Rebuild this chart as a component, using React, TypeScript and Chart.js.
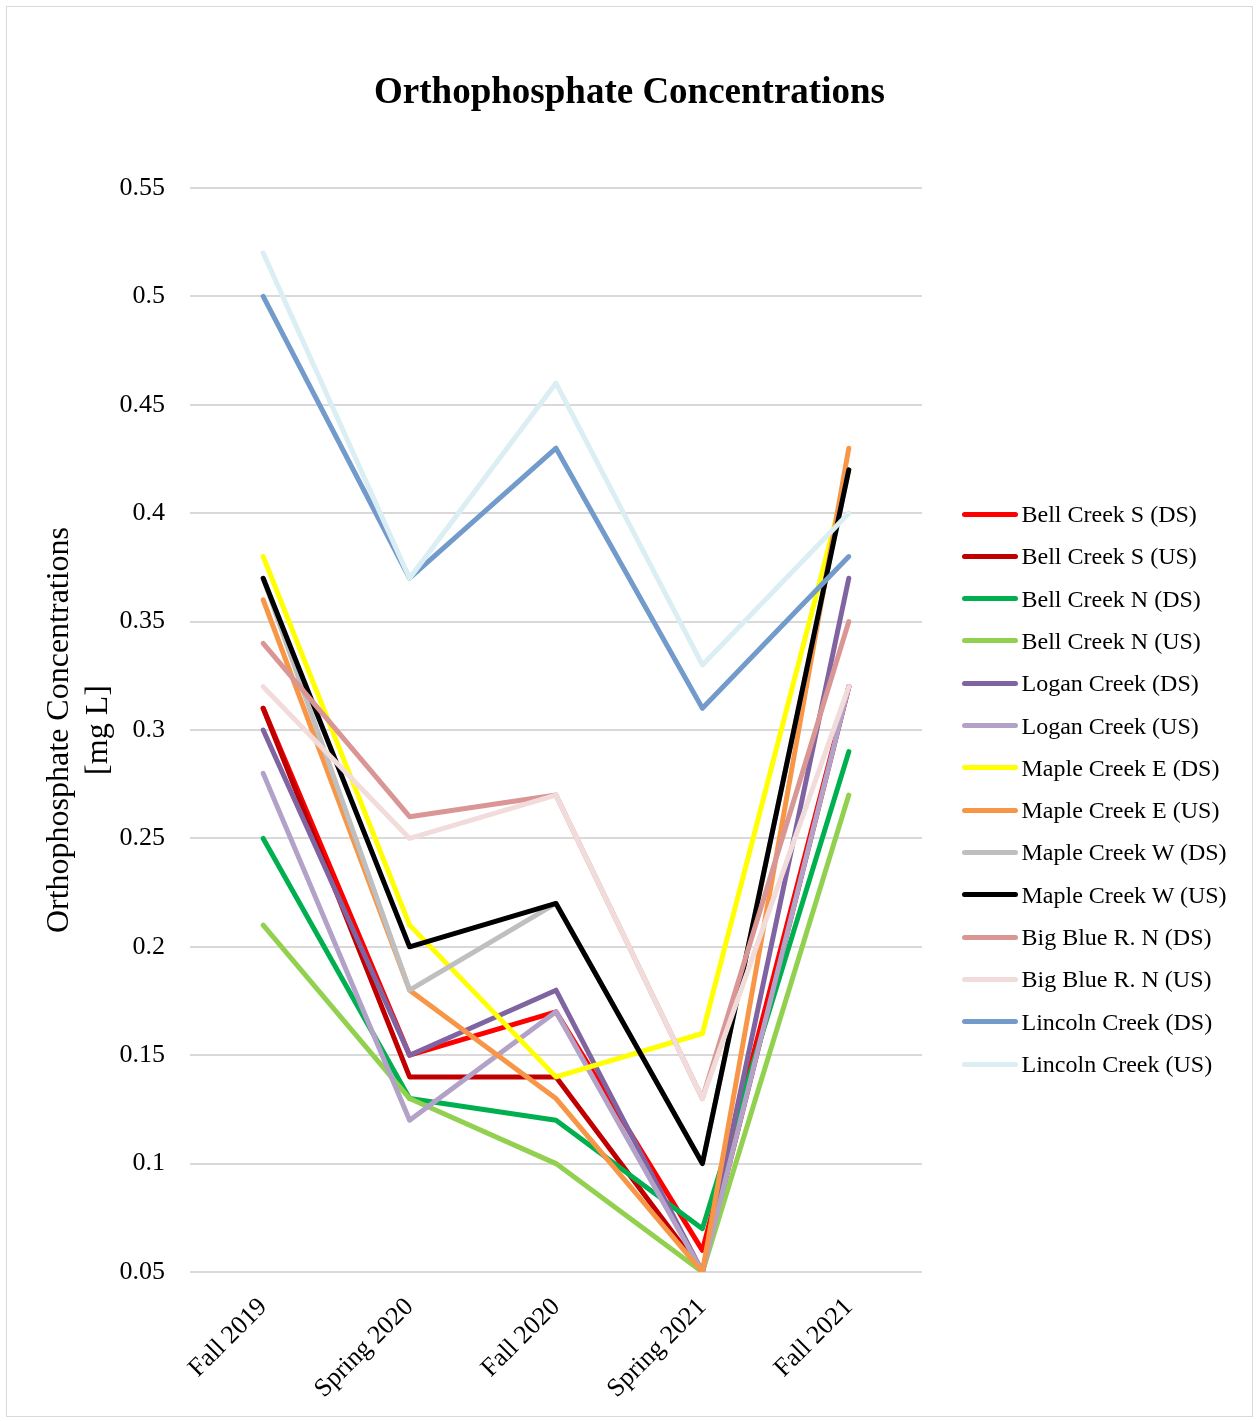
import React, { useEffect, useRef } from 'react';
import { Chart, registerables } from 'chart.js';

Chart.register(...registerables);

const categories = ['Fall 2019', 'Spring 2020', 'Fall 2020', 'Spring 2021', 'Fall 2021'];

const bellCreekSDS = [0.31, 0.15, 0.17, 0.06, 0.32];
const bellCreekSUS = [0.31, 0.14, 0.14, 0.05, 0.32];
const bellCreekNDS = [0.25, 0.13, 0.12, 0.07, 0.29];
const bellCreekNUS = [0.21, 0.13, 0.10, 0.05, 0.27];
const loganCreekDS = [0.30, 0.15, 0.18, 0.05, 0.37];
const loganCreekUS = [0.28, 0.12, 0.17, 0.05, 0.32];
const mapleCreekEDS = [0.38, 0.21, 0.14, 0.16, 0.42];
const mapleCreekEUS = [0.36, 0.18, 0.13, 0.05, 0.43];
const mapleCreekWDS = [0.37, 0.18, 0.22, 0.10, 0.42];
const mapleCreekWUS = [0.37, 0.20, 0.22, 0.10, 0.42];
const bigBlueNDS = [0.34, 0.26, 0.27, 0.13, 0.35];
const bigBlueNUS = [0.32, 0.25, 0.27, 0.13, 0.32];
const lincolnCreekDS = [0.50, 0.37, 0.43, 0.31, 0.38];
const lincolnCreekUS = [0.52, 0.37, 0.46, 0.33, 0.40];

const seriesNames = [
  'Bell Creek S (DS)', 'Bell Creek S (US)', 'Bell Creek N (DS)', 'Bell Creek N (US)',
  'Logan Creek (DS)', 'Logan Creek (US)', 'Maple Creek E (DS)', 'Maple Creek E (US)',
  'Maple Creek W (DS)', 'Maple Creek W (US)', 'Big Blue R. N (DS)', 'Big Blue R. N (US)',
  'Lincoln Creek (DS)', 'Lincoln Creek (US)',
];
const seriesValues = [
  bellCreekSDS, bellCreekSUS, bellCreekNDS, bellCreekNUS,
  loganCreekDS, loganCreekUS, mapleCreekEDS, mapleCreekEUS,
  mapleCreekWDS, mapleCreekWUS, bigBlueNDS, bigBlueNUS,
  lincolnCreekDS, lincolnCreekUS,
];
const seriesColors = [
  '#FF0000', '#C00000', '#00B050', '#92D050',
  '#8064A2', '#B3A2C7', '#FFFF00', '#F79646',
  '#BFBFBF', '#000000', '#D99694', '#F2DCDB',
  '#729ACB', '#DAEEF3',
];

const yTicks = [0.05, 0.1, 0.15, 0.2, 0.25, 0.3, 0.35, 0.4, 0.45, 0.5, 0.55];
const yTickLabels = ['0.05', '0.1', '0.15', '0.2', '0.25', '0.3', '0.35', '0.4', '0.45', '0.5', '0.55'];

const chartTitle = 'Orthophosphate Concentrations';
const yAxisTitle = ['Orthophosphate Concentrations', '[mg L]'];

const FONT = '"Liberation Serif", "Times New Roman", Times, serif';
const LINE_W = 5;

export default function App() {
  const ref = useRef<HTMLCanvasElement>(null);

  useEffect(() => {
    const canvas = ref.current!;
    const n = seriesNames.length;
    const chart = new Chart(canvas, {
      type: 'line',
      data: {
        labels: categories,
        datasets: seriesNames.map((name, i) => ({
          label: name,
          data: seriesValues[i],
          borderColor: seriesColors[i],
          backgroundColor: seriesColors[i],
          borderWidth: LINE_W,
          borderCapStyle: 'round',
          borderJoinStyle: 'round',
          pointRadius: 0,
          pointHoverRadius: 0,
          tension: 0,
          fill: false,
          order: n - i,
        })),
      },
      options: {
        animation: false,
        responsive: false,
        devicePixelRatio: 1,
        events: [],
        layout: { padding: { top: 0, left: 0, right: 0, bottom: 0 } },
        plugins: {
          title: {
            display: true,
            text: chartTitle,
            color: '#000',
            font: { family: FONT, size: 37, weight: 'bold', lineHeight: 1.2 },
            padding: { top: 71, bottom: 72.6 },
          },
          legend: { display: false },
          tooltip: { enabled: false },
        },
        scales: {
          x: {
            type: 'category',
            offset: true,
            grid: { display: false, drawTicks: false },
            border: { display: false },
            ticks: {
              color: '#000',
              font: { family: FONT, size: 26 },
              minRotation: 45,
              maxRotation: 45,
              autoSkip: false,
              padding: 20,
              labelOffset: 0,
            },
            afterFit: (s: any) => { s.height = 149; },
          },
          y: {
            type: 'linear',
            position: 'left',
            min: 0.05,
            max: 0.55,
            grid: { color: '#d9d9d9', lineWidth: 2, drawTicks: false },
            border: { display: false },
            ticks: {
              color: '#000',
              font: { family: FONT, size: 26 },
              padding: 25,
              callback: (v: any) => {
                const idx = yTicks.findIndex((t) => Math.abs(t - Number(v)) < 1e-9);
                return idx >= 0 ? yTickLabels[idx] : '';
              },
            },
            afterBuildTicks: (s: any) => { s.ticks = yTicks.map((v) => ({ value: v })); },
            title: {
              display: true,
              text: yAxisTitle,
              color: '#000',
              font: { family: FONT, size: 32, lineHeight: 1.2 },
              padding: { top: 40.8, bottom: 0 },
            },
            afterFit: (s: any) => { s.width = 190; },
          },
          legendSpace: {
            type: 'linear',
            position: 'right',
            display: true,
            grid: { display: false, drawTicks: false },
            border: { display: false },
            ticks: { display: false },
            afterFit: (s: any) => { s.width = 337; },
          },
        },
      } as any,
    });
    return () => chart.destroy();
  }, []);

  return (
    <div style={{ position: 'absolute', left: 0, top: 0, width: 1259, height: 1421, background: '#fff', overflow: 'hidden' }}>
      <canvas ref={ref} width={1259} height={1421} style={{ position: 'absolute', left: 0, top: 0, width: 1259, height: 1421 }} />
      {seriesNames.map((name, i) => {
        const cy = 514 + 42.31 * i;
        return (
          <React.Fragment key={name}>
            <div
              style={{
                position: 'absolute',
                left: 962,
                top: cy - LINE_W / 2,
                width: 56,
                height: LINE_W,
                borderRadius: LINE_W / 2,
                background: seriesColors[i],
              }}
            />
            <span
              style={{
                position: 'absolute',
                left: 1021.5,
                top: cy - 14,
                height: 28,
                lineHeight: '28px',
                fontFamily: FONT,
                fontSize: 24,
                color: '#000',
                whiteSpace: 'nowrap',
              }}
            >
              {name}
            </span>
          </React.Fragment>
        );
      })}
      <div style={{ position: 'absolute', left: 6, top: 6, width: 1247, height: 1411, border: '1px solid #d9d9d9', boxSizing: 'border-box', pointerEvents: 'none' }} />
    </div>
  );
}
